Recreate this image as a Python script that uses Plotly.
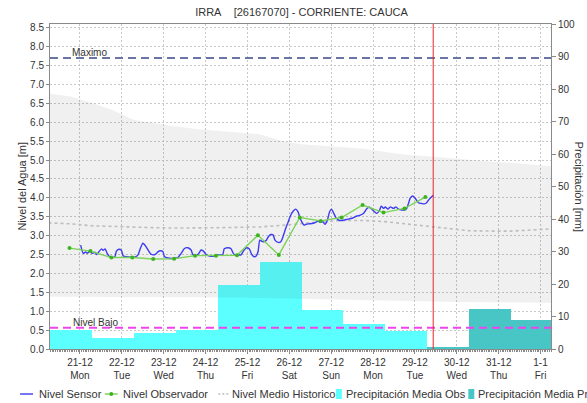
import pandas as pd
import plotly.graph_objects as go

# ---------------------------------------------------------------- data
station_title = "IRRA\u00a0\u00a0\u00a0\u00a0[26167070] - CORRIENTE: CAUCA"

# sensor level: hours after 2020-12-21 00:00 and level in metres
sensor_start = pd.Timestamp("2020-12-21 00:00")
sensor_hours = [0.4, 1.9, 3.3, 4.2, 5.7, 7.0, 8.6, 9.5, 10.8, 12.4, 13.3, 14.4, 15.6, 17.1,
                18.4, 20.0, 20.9, 22.3, 23.8, 24.7, 26.6, 29.5, 31.4, 33.3, 34.6, 36.1,
                37.7, 39.0, 40.3, 41.8, 43.4, 44.7, 46.0, 47.5, 48.5, 51.4, 54.2, 56.1,
                58.0, 59.9, 61.8, 63.7, 64.7, 66.6, 68.1, 69.4, 70.8, 72.3, 74.2, 77.0,
                78.9, 81.8, 82.7, 84.6, 86.5, 87.9, 89.4, 90.9, 92.3, 94.1, 95.5, 97.0,
                98.5, 99.9, 101.0, 102.1, 103.1, 104.6, 106.5, 108.0, 109.4, 110.7,
                111.8, 113.7, 115.1, 116.4, 117.9, 119.4, 120.8, 122.3, 123.6, 125.0,
                125.9, 127.1, 128.4, 129.7, 131.2, 133.1, 135.1, 136.5, 137.9, 139.2,
                140.4, 141.7, 143.1, 144.2, 145.5, 146.8, 148.8, 151.2, 153.1, 156.0,
                158.8, 160.7, 162.6, 164.5, 165.9, 167.4, 168.9, 170.2, 171.6, 172.7,
                174.0, 175.0, 176.5, 177.9, 179.7, 181.1, 182.6, 184.5, 186.4, 187.3,
                188.3, 189.3, 190.6, 192.1, 194.0, 195.9, 197.4, 198.7, 200.1, 201.6,
                202.6]
sensor_levels = [2.75, 2.53, 2.57, 2.53, 2.59, 2.53, 2.56, 2.50, 2.57, 2.65, 2.61, 2.65, 2.53, 2.44,
                 2.42, 2.44, 2.59, 2.64, 2.61, 2.47, 2.44, 2.43, 2.43, 2.49, 2.66, 2.80,
                 2.72, 2.62, 2.53, 2.49, 2.51, 2.57, 2.60, 2.58, 2.44, 2.40, 2.40, 2.42,
                 2.53, 2.66, 2.68, 2.62, 2.50, 2.47, 2.53, 2.62, 2.59, 2.50, 2.46, 2.46,
                 2.49, 2.50, 2.65, 2.68, 2.66, 2.53, 2.47, 2.49, 2.49, 2.62, 2.68, 2.65,
                 2.50, 2.44, 2.46, 2.58, 2.88, 2.84, 2.86, 2.97, 3.03, 3.02,
                 2.88, 2.82, 2.84, 2.97, 3.19, 3.37, 3.54, 3.65, 3.70, 3.63,
                 3.50, 3.37, 3.28, 3.30, 3.31, 3.32, 3.35, 3.39, 3.35, 3.37,
                 3.30, 3.39, 3.63, 3.70, 3.59, 3.47, 3.40, 3.41, 3.43, 3.46,
                 3.52, 3.54, 3.59, 3.72, 3.75, 3.70, 3.63, 3.59, 3.66, 3.78,
                 3.72, 3.76, 3.70, 3.76, 3.72, 3.76, 3.70, 3.68, 3.68, 3.72,
                 3.85, 3.99, 4.05, 3.99, 3.87, 3.85, 3.84, 3.87, 3.96, 4.03,
                 4.07]

# observer readings (06:00 and 18:00)
observer_times = ["2020-12-20 18:00", "2020-12-21 06:00", "2020-12-21 18:00", "2020-12-22 06:00",
                  "2020-12-22 18:00", "2020-12-23 06:00", "2020-12-23 18:00", "2020-12-24 06:00",
                  "2020-12-24 18:00", "2020-12-25 06:00", "2020-12-25 18:00", "2020-12-26 06:00",
                  "2020-12-26 18:00", "2020-12-27 06:00", "2020-12-27 18:00", "2020-12-28 06:00",
                  "2020-12-28 18:00", "2020-12-29 06:00"]
observer_levels = [2.67, 2.59, 2.42, 2.42, 2.38, 2.39, 2.47, 2.47, 2.48, 3.01, 2.49, 3.48,
                   3.39, 3.48, 3.81, 3.61, 3.72, 4.02]

# historical envelope and mean level
hist_times = ["2020-12-20 06:00", "2020-12-20 19:00", "2020-12-21 07:00", "2020-12-21 19:00",
              "2020-12-22 07:00", "2020-12-22 19:00", "2020-12-23 07:00", "2020-12-23 19:00",
              "2020-12-24 07:00", "2020-12-24 19:00", "2020-12-25 07:00", "2020-12-25 19:00",
              "2020-12-26 07:00", "2020-12-26 19:00", "2020-12-27 07:00", "2020-12-27 19:00",
              "2020-12-28 07:00", "2020-12-28 19:00", "2020-12-29 07:00", "2020-12-29 19:00",
              "2020-12-30 07:00", "2020-12-30 19:00", "2020-12-31 07:00", "2020-12-31 19:00",
              "2021-01-01 07:00"]
hist_upper = [6.76, 6.68, 6.51, 6.32, 6.06, 5.97, 5.89, 5.82, 5.78, 5.73, 5.68, 5.52, 5.42,
              5.38, 5.35, 5.30, 5.21, 5.14, 5.10, 5.05, 5.00, 4.96, 4.93, 4.89, 4.83]
hist_lower = [1.38, 1.38, 1.38, 1.38, 1.37, 1.37, 1.37, 1.37, 1.36, 1.36, 1.35, 1.34, 1.32,
              1.31, 1.29, 1.28, 1.27, 1.27, 1.26, 1.25, 1.24, 1.24, 1.23, 1.23, 1.22]
hist_mean = [3.34, 3.31, 3.26, 3.24, 3.22, 3.21, 3.20, 3.20, 3.21, 3.22, 3.23, 3.27, 3.32,
             3.37, 3.40, 3.40, 3.37, 3.31, 3.25, 3.18, 3.13, 3.12, 3.12, 3.15, 3.18]

# daily precipitation (07:00 to 07:00), mm
precip_obs_start = ["2020-12-19 07:00", "2020-12-20 07:00", "2020-12-21 07:00", "2020-12-22 07:00",
                    "2020-12-23 07:00", "2020-12-24 07:00", "2020-12-25 07:00", "2020-12-26 07:00",
                    "2020-12-27 07:00", "2020-12-28 07:00"]
precip_obs_mm = [9.5, 6.0, 3.5, 5.0, 6.0, 19.7, 26.7, 11.9, 7.6, 5.4]
precip_fc_start = ["2020-12-29 07:00", "2020-12-30 07:00", "2020-12-31 07:00"]
precip_fc_mm = [0.5, 12.3, 9.0]

level_max = 7.7
level_low = 0.56
now_time = "2020-12-29 10:30"

# ---------------------------------------------------------------- figure
FONT = "Liberation Sans, Arial, sans-serif"
TXT = "#333333"
DAY_MS = 24 * 3600 * 1000
sensor_times = [sensor_start + pd.Timedelta(hours=h) for h in sensor_hours]

fig = go.Figure()

# precipitation bars on the primary (right) axis, underneath the level traces
fig.add_trace(go.Bar(x=precip_obs_start, y=precip_obs_mm, width=DAY_MS, offset=0,
                     marker=dict(color="#5CFFFF", line=dict(width=0)),
                     name="Precipitación Media Obs", yaxis="y"))
fig.add_trace(go.Bar(x=precip_fc_start, y=precip_fc_mm, width=DAY_MS, offset=0,
                     marker=dict(color="#48C6C6", line=dict(width=0)),
                     name="Precipitación Media Pronosticada", yaxis="y"))

# historical envelope
fig.add_trace(go.Scatter(x=hist_times, y=hist_lower, mode="lines", line=dict(width=0),
                         yaxis="y2", hoverinfo="skip"))
fig.add_trace(go.Scatter(x=hist_times, y=hist_upper, mode="lines", line=dict(width=0),
                         fill="tonexty", fillcolor="rgba(0,0,0,0.06)", yaxis="y2",
                         hoverinfo="skip"))
fig.add_trace(go.Scatter(x=hist_times, y=hist_mean, mode="lines", yaxis="y2",
                         line=dict(color="#BDBDBD", width=1.6, dash="3px,3px"),
                         name="Nivel Medio Historico"))

fig.add_trace(go.Scatter(x=sensor_times, y=sensor_levels, mode="lines", yaxis="y2",
                         line=dict(color="#3C3CF0", width=1.4, shape="spline", smoothing=0.6),
                         name="Nivel Sensor"))
fig.add_trace(go.Scatter(x=observer_times, y=observer_levels, mode="lines+markers", yaxis="y2",
                         line=dict(color="#7CD25A", width=1.4),
                         marker=dict(color="#3CB41E", size=4),
                         name="Nivel Observador"))

# reference levels and current time
fig.add_shape(type="line", xref="paper", x0=0, x1=1, yref="y2", y0=level_max, y1=level_max,
              line=dict(color="#6A74A6", width=2, dash="8px,5px"), layer="above")
fig.add_shape(type="line", xref="paper", x0=0, x1=1, yref="y2", y0=level_low, y1=level_low,
              line=dict(color="#EE44EE", width=2, dash="8px,5px"), layer="above")
fig.add_shape(type="line", xref="x", x0=now_time, x1=now_time, yref="paper", y0=0, y1=1,
              line=dict(color="rgba(235,40,40,0.85)", width=1.2), layer="above")

annotations = [
    dict(text="Maximo", xref="paper", x=0.039, yref="y2", y=level_max, xanchor="left",
         yanchor="bottom", yshift=-2, showarrow=False, font=dict(size=10, color=TXT, family=FONT)),
    dict(text="Nivel Bajo", xref="paper", x=0.042, yref="y2", y=level_low, xanchor="left",
         yanchor="bottom", yshift=-2, showarrow=False, font=dict(size=10, color=TXT, family=FONT)),
    dict(text="Nivel del Agua [m]", xref="paper", x=(21 - 50) / 503, yref="paper", y=0.5,
         textangle=-90, showarrow=False, xanchor="center", yanchor="middle",
         font=dict(size=11, color=TXT, family=FONT)),
    dict(text="Precipitación [mm]", xref="paper", x=(582 - 50) / 503, yref="paper", y=0.5,
         textangle=90, showarrow=False, xanchor="center", yanchor="middle",
         font=dict(size=11, color=TXT, family=FONT)),
]

# legend row drawn beneath the axis
LEG_Y = (349 - 394) / 325.0


def px(xp):
    return (xp - 50) / 503.0


def py(yp):
    return (349 - yp) / 325.0


legend_items = [
    ("line", 20, 33, "#3C3CF0", "Nivel Sensor", 36.5),
    ("marker", 105, 118, "#7CD25A", "Nivel Observador", 121.5),
    ("dot", 219, 229, "#BDBDBD", "Nivel Medio Historico", 230.5),
    ("box", 337, 343, "#5CFFFF", "Precipitación Media Obs", 345.5),
    ("box", 470, 476, "#48C6C6", "Precipitación Media Pronosticada", 477.5),
]
for kind, a, b, col, label, tx in legend_items:
    if kind == "box":
        fig.add_shape(type="rect", xref="paper", yref="paper", x0=px(a), x1=px(b),
                      y0=py(399), y1=py(389), fillcolor=col, line=dict(width=0))
    else:
        dash = "2px,2px" if kind == "dot" else "solid"
        fig.add_shape(type="line", xref="paper", yref="paper", x0=px(a), x1=px(b),
                      y0=LEG_Y, y1=LEG_Y, line=dict(color=col, width=1.4, dash=dash))
        if kind == "marker":
            c = (a + b) / 2
            fig.add_shape(type="circle", xref="paper", yref="paper", x0=px(c - 2), x1=px(c + 2),
                          y0=py(396), y1=py(392), fillcolor="#3CB41E", line=dict(width=0))
    annotations.append(dict(text=label, xref="paper", yref="paper", x=px(tx), y=LEG_Y,
                            xanchor="left", yanchor="middle", showarrow=False,
                            font=dict(size=11, color=TXT, family=FONT)))

GRID = "#C8C8C8"
AXIS = "#8A8A8A"
fig.update_layout(
    width=587, height=403,
    margin=dict(l=50, r=34, t=24, b=54),
    paper_bgcolor="white", plot_bgcolor="white",
    font=dict(family=FONT, size=10, color=TXT),
    showlegend=False, bargap=0, barmode="overlay",
    title=dict(text=station_title, x=301.5 / 587, xanchor="center", y=1 - 12 / 403,
               yanchor="middle", font=dict(size=11, color=TXT, family=FONT)),
    xaxis=dict(type="date", range=["2020-12-20 06:50", "2021-01-01 06:00"],
               tick0="2020-12-21", dtick=DAY_MS, tickformat="%-d-%-m<br>%a",
               showgrid=True, gridcolor=GRID, griddash="2px,2px", gridwidth=1,
               showline=True, linecolor=AXIS, linewidth=1, mirror=True,
               ticks="outside", ticklen=4, tickcolor=AXIS,
               minor=dict(dtick=3600000, tick0="2020-12-21", ticks="outside", ticklen=2,
                          tickcolor=AXIS, showgrid=False),
               tickfont=dict(size=10, color=TXT), zeroline=False),
    yaxis=dict(side="right", range=[0, 100], dtick=10, showgrid=False, zeroline=False,
               showline=True, linecolor=AXIS, linewidth=1,
               ticks="outside", ticklen=4, tickcolor=AXIS, tickfont=dict(size=10, color=TXT)),
    yaxis2=dict(overlaying="y", side="left", range=[0, 8.6], dtick=0.5, tickformat=".1f",
                showgrid=True, gridcolor=GRID, griddash="2px,2px", gridwidth=1,
                zeroline=False, showline=True, linecolor=AXIS, linewidth=1,
                ticks="outside", ticklen=3, tickcolor=AXIS, tickfont=dict(size=10, color=TXT)),
    annotations=annotations,
)

fig.write_html("out.html")
